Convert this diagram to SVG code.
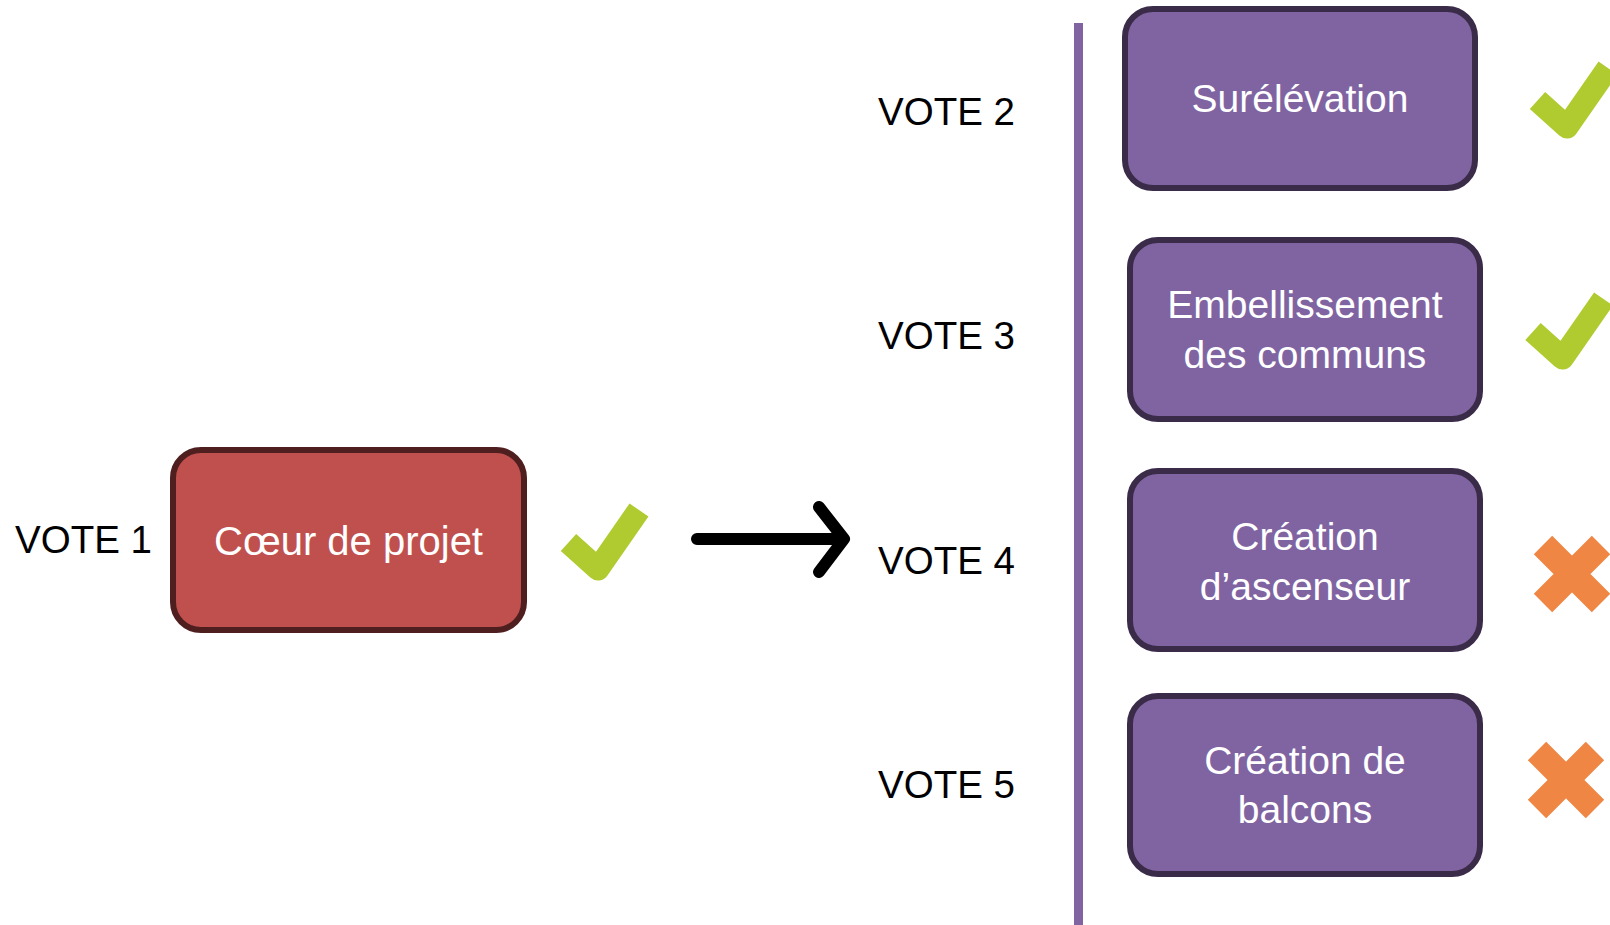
<svg xmlns="http://www.w3.org/2000/svg" xmlns:xlink="http://www.w3.org/1999/xlink" width="1610" height="925" viewBox="0 0 1610 925">
  <style>
    .vote { font-family: "Liberation Sans", Arial, sans-serif; font-size: 38.5px; fill: #000; }
    .lbl { font-family: "Liberation Sans", Arial, sans-serif; font-size: 39px; fill: #fff; text-anchor: middle; }
    .red { fill: #C0504E; stroke: #4F1F1F; stroke-width: 6; }
    .purple { fill: #8064A2; stroke: #3A2B48; stroke-width: 6; }
    .check { fill: none; stroke: #AFCB2F; stroke-width: 23; stroke-linecap: butt; stroke-linejoin: round; }
    .cross { fill: none; stroke: #EF8643; stroke-width: 26; stroke-linecap: butt; }
  </style>
  <defs>
    <path id="checkmark" class="check" d="M-29.5,-26.5 L0,0 L41,-59"/>
    <path id="crossmark" class="cross" d="M-29,-29 L29,29 M29,-29 L-29,29"/>
  </defs>
  <rect width="1610" height="925" fill="#fff"/>

  <g id="connectors">
    <path d="M697,539 H844 M819,507 L844,539 L819,572" fill="none" stroke="#000" stroke-width="12" stroke-linecap="round" stroke-linejoin="round"/>
    <line x1="1078.5" y1="23" x2="1078.5" y2="925" stroke="#8064A2" stroke-width="9"/>
  </g>

  <g id="vote-labels">
    <text class="vote" x="15" y="553">VOTE 1</text>
    <text class="vote" x="878" y="125">VOTE 2</text>
    <text class="vote" x="878" y="349">VOTE 3</text>
    <text class="vote" x="878" y="574">VOTE 4</text>
    <text class="vote" x="878" y="798">VOTE 5</text>
  </g>

  <g id="node-coeur">
    <rect class="red" x="173" y="450" width="351" height="180" rx="28"/>
    <text class="lbl" x="348.5" y="555" style="font-size:40px">Cœur de projet</text>
    <use xlink:href="#checkmark" x="598" y="569"/>
  </g>

  <g id="node-surelevation">
    <rect class="purple" x="1125" y="9" width="350" height="179" rx="28"/>
    <text class="lbl" x="1300" y="112">Surélévation</text>
    <use xlink:href="#checkmark" x="1567" y="127"/>
  </g>

  <g id="node-embellissement">
    <rect class="purple" x="1130" y="240" width="350" height="179" rx="28"/>
    <text class="lbl" x="1305" y="318">Embellissement</text>
    <text class="lbl" x="1305" y="368">des communs</text>
    <use xlink:href="#checkmark" x="1562.5" y="358"/>
  </g>

  <g id="node-ascenseur">
    <rect class="purple" x="1130" y="471" width="350" height="178" rx="28"/>
    <text class="lbl" x="1305" y="550">Création</text>
    <text class="lbl" x="1305" y="600">d’ascenseur</text>
    <use xlink:href="#crossmark" x="1572" y="574"/>
  </g>

  <g id="node-balcons">
    <rect class="purple" x="1130" y="696" width="350" height="178" rx="28"/>
    <text class="lbl" x="1305" y="774">Création de</text>
    <text class="lbl" x="1305" y="823">balcons</text>
    <use xlink:href="#crossmark" x="1566" y="780"/>
  </g>
</svg>
